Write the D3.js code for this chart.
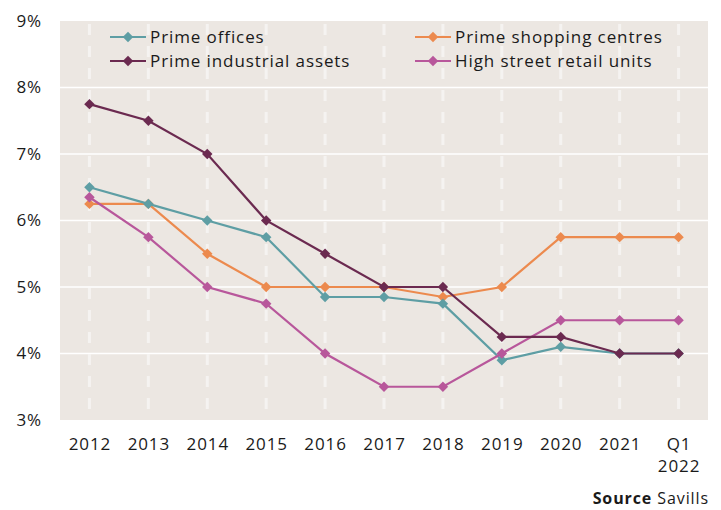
<!DOCTYPE html>
<html>
<head>
<meta charset="utf-8">
<script src="https://cdn.jsdelivr.net/npm/d3@7"></script>
<style>
  body { margin: 0; background: #fff; }
  svg text { font-family: "Open Sans", sans-serif; fill: #1a1a1a; letter-spacing: 0.9px; }
</style>
</head>
<body>
<div id="chart"></div>
<script>
// categories and values
const categories = ["2012", "2013", "2014", "2015", "2016", "2017", "2018", "2019", "2020", "2021", "Q1 2022"];
const primeOffices    = [6.5, 6.25, 6.0, 5.75, 4.85, 4.85, 4.75, 3.9, 4.1, 4.0, 4.0];
const primeShopping   = [6.25, 6.25, 5.5, 5.0, 5.0, 5.0, 4.85, 5.0, 5.75, 5.75, 5.75];
const primeIndustrial = [7.75, 7.5, 7.0, 6.0, 5.5, 5.0, 5.0, 4.25, 4.25, 4.0, 4.0];
const highStreet      = [6.35, 5.75, 5.0, 4.75, 4.0, 3.5, 3.5, 4.0, 4.5, 4.5, 4.5];
const yTicks = [3, 4, 5, 6, 7, 8, 9];

const series = [
  { name: "Prime offices", values: primeOffices, color: "#5e9ea4" },
  { name: "Prime shopping centres", values: primeShopping, color: "#ec8a4e" },
  { name: "Prime industrial assets", values: primeIndustrial, color: "#6b2a50" },
  { name: "High street retail units", values: highStreet, color: "#b8579b" }
];
// draw order: offices under industrial etc.
const drawOrder = [series[1], series[0], series[3], series[2]];

const WIDTH = 721, HEIGHT = 510;
const MARGIN = { top: 21, right: 13, bottom: 90, left: 60 };

const svg = d3.select("#chart").append("svg")
  .attr("width", WIDTH)
  .attr("height", HEIGHT);

const x = d3.scalePoint().domain(categories)
  .range([MARGIN.left, WIDTH - MARGIN.right]).padding(0.5);
const y = d3.scaleLinear().domain([3, 9])
  .range([HEIGHT - MARGIN.bottom, MARGIN.top]);

// plot background
svg.append("rect")
  .attr("x", MARGIN.left).attr("y", MARGIN.top)
  .attr("width", WIDTH - MARGIN.right - MARGIN.left)
  .attr("height", y(3) - y(9))
  .attr("fill", "#ece7e2");

// horizontal grid
svg.append("g").selectAll("line")
  .data(yTicks.filter(d => d > 3 && d < 9))
  .join("line")
  .attr("x1", MARGIN.left).attr("x2", WIDTH - MARGIN.right)
  .attr("y1", d => y(d)).attr("y2", d => y(d))
  .attr("stroke", "#fff").attr("stroke-width", 1.5);

// dashed verticals
svg.append("g").selectAll("line")
  .data(categories)
  .join("line")
  .attr("x1", d => x(d)).attr("x2", d => x(d))
  .attr("y1", y(9) + 3).attr("y2", y(3) - 3)
  .attr("stroke", "#f5f3f1").attr("stroke-width", 3)
  .attr("stroke-dasharray", "11,11");

// y axis labels
const yAxis = d3.axisLeft(y).tickValues(yTicks).tickFormat(d => d + "%").tickSize(0).tickPadding(18);
svg.append("g")
  .attr("transform", `translate(${MARGIN.left},0)`)
  .call(yAxis)
  .call(g => g.select(".domain").remove())
  .call(g => g.selectAll("text").style("font-size", "17px").attr("fill", "#1a1a1a"));

// x axis labels (two lines for Q1 2022)
const xAxis = d3.axisBottom(x).tickSize(0).tickPadding(0).tickFormat("");
const xg = svg.append("g")
  .attr("transform", `translate(0,${y(3)})`)
  .call(xAxis)
  .call(g => g.select(".domain").remove());
xg.selectAll(".tick").append("text")
  .attr("text-anchor", "middle")
  .style("font-size", "17px")
  .attr("fill", "#1a1a1a")
  .selectAll("tspan")
  .data(d => d.split(" "))
  .join("tspan")
  .attr("x", 0)
  .attr("y", (d, i) => 30 + i * 22)
  .text(d => d);

const line = d3.line()
  .x((d, i) => x(categories[i]))
  .y(d => y(d));

const diamond = d3.symbol().type(d3.symbolDiamond2).size(70);

drawOrder.forEach(s => {
  const g = svg.append("g");
  g.append("path").datum(s.values)
    .attr("fill", "none")
    .attr("stroke", s.color)
    .attr("stroke-width", 2.2)
    .attr("d", line);
  g.selectAll("path.pt")
    .data(s.values)
    .join("path")
    .attr("class", "pt")
    .attr("d", diamond)
    .attr("transform", (d, i) => `translate(${x(categories[i])},${y(d)})`)
    .attr("fill", s.color);
});

// legend
const legendPos = [
  { x: 110, y: 37 },
  { x: 415, y: 37 },
  { x: 110, y: 61 },
  { x: 415, y: 61 }
];
series.forEach((s, i) => {
  const p = legendPos[i];
  const lg = svg.append("g").attr("transform", `translate(${p.x},${p.y})`);
  lg.append("line").attr("x1", 0).attr("x2", 36).attr("y1", 0).attr("y2", 0)
    .attr("stroke", s.color).attr("stroke-width", 2.2);
  lg.append("path").attr("d", diamond).attr("transform", "translate(18,0)").attr("fill", s.color);
  lg.append("text").attr("x", 40).attr("y", 6)
    .style("font-size", "17px")
    .text(s.name);
});

// source
const src = svg.append("text")
  .attr("x", WIDTH - MARGIN.right + 1).attr("y", 504)
  .attr("text-anchor", "end")
  .style("font-size", "16px");
src.append("tspan").style("font-weight", "bold").text("Source");
src.append("tspan").text(" Savills");
</script>
</body>
</html>
